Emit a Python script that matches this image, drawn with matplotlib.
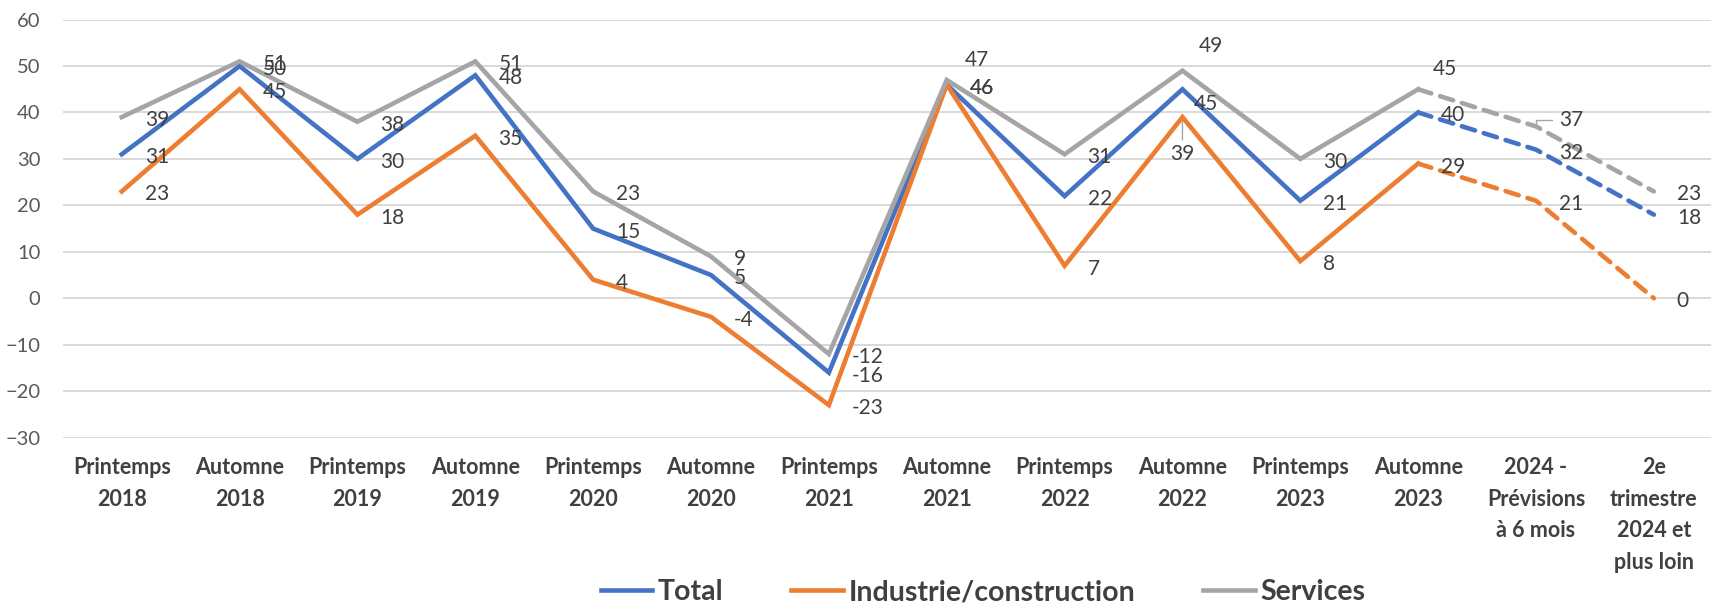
import matplotlib
matplotlib.use("Agg")
import matplotlib.pyplot as plt
from matplotlib.lines import Line2D

plt.rcParams['font.family'] = ['Lato', 'DejaVu Sans']

# Données
categories = ["Printemps\n2018", "Automne\n2018", "Printemps\n2019", "Automne\n2019",
              "Printemps\n2020", "Automne\n2020", "Printemps\n2021", "Automne\n2021",
              "Printemps\n2022", "Automne\n2022", "Printemps\n2023", "Automne\n2023",
              "2024 -\nPrévisions\nà 6 mois", "2e\ntrimestre\n2024 et\nplus loin"]
total = [31, 50, 30, 48, 15, 5, -16, 46, 22, 45, 21, 40, 32, 18]
industrie = [23, 45, 18, 35, 4, -4, -23, 46, 7, 39, 8, 29, 21, 0]
services = [39, 51, 38, 51, 23, 9, -12, 47, 31, 49, 30, 45, 37, 23]
series_names = ["Total", "Industrie/construction", "Services"]
y_ticks = list(range(-30, 61, 10))

colors = ["#4472C4", "#ED7D31", "#A5A5A5"]
n_solid = 12  # points mesurés, le reste en prévision (pointillé)

# Décalages particuliers des étiquettes (pixels, ha, trait de rappel)
label_overrides = {
    (2, 7): (18, 23, 'left', None),
    (2, 9): (16, 28, 'left', None),
    (0, 9): (11, -12, 'left', None),
    (1, 9): (0, -34, 'center', 'down'),
    (2, 11): (15, 23, 'left', None),
    (2, 12): (23, 9, 'left', 'elbow'),
}

W, H = 1711, 603
fig = plt.figure(figsize=(W / 100, H / 100), dpi=100)
ax = fig.add_axes([62.8 / W, 1 - 437.6 / H, 1650 / W, (437.6 - 19.6) / H])

x = list(range(len(categories)))
lw = 3.3
for s, (vals, col) in enumerate(zip([total, industrie, services], colors)):
    ax.plot(x[:n_solid], vals[:n_solid], color=col, lw=lw, solid_joinstyle='miter', zorder=3)
    ax.plot(x[n_solid - 1:], vals[n_solid - 1:], color=col, lw=lw,
            linestyle=(0, (3, 2)), dash_capstyle='round', zorder=3)

for s, vals in enumerate([total, industrie, services]):
    for i, v in enumerate(vals):
        dx, dy, ha, leader = label_overrides.get((s, i), (23, 0, 'left', None))
        kw = {}
        if leader == 'down':
            kw['arrowprops'] = dict(arrowstyle='-', color='#A5A5A5', lw=1,
                                    shrinkA=1, shrinkB=3, relpos=(0.5, 1))
        elif leader == 'elbow':
            kw['arrowprops'] = dict(arrowstyle='-', color='#A5A5A5', lw=1,
                                    shrinkA=3, shrinkB=2, relpos=(0, 0.5),
                                    connectionstyle='angle,angleA=180,angleB=90,rad=0')
        ax.annotate(str(v), (i, v), xytext=(dx, dy - 3), textcoords='offset pixels',
                    ha=ha, va='center', fontsize=15, color='#404040', zorder=4, **kw)

ax.set_xlim(-0.5, len(categories) - 0.5)
ax.set_ylim(-30, 60)
ax.set_yticks(y_ticks)
ax.set_xticks(x)
ax.set_xticklabels(categories, fontsize=15.5, fontweight='bold', color='#404040',
                   linespacing=1.62)
ax.tick_params(axis='y', length=0, pad=16, labelsize=14.5, labelcolor='#595959')
ax.tick_params(axis='x', length=0, pad=14)
ax.grid(axis='y', color='#D9D9D9', lw=1.4)
ax.set_axisbelow(True)
for sp in ax.spines.values():
    sp.set_visible(False)

handles = [Line2D([], [], color=c, lw=lw) for c in colors]
fig.legend(handles, series_names, loc='center', bbox_to_anchor=(983 / W, 1 - 592 / H),
           ncol=3, frameon=False, prop={'weight': 'bold', 'size': 20.5},
           labelcolor='#404040', handlelength=1.8, handletextpad=0.2, columnspacing=2.4)

fig.savefig("out.png", dpi=100)
